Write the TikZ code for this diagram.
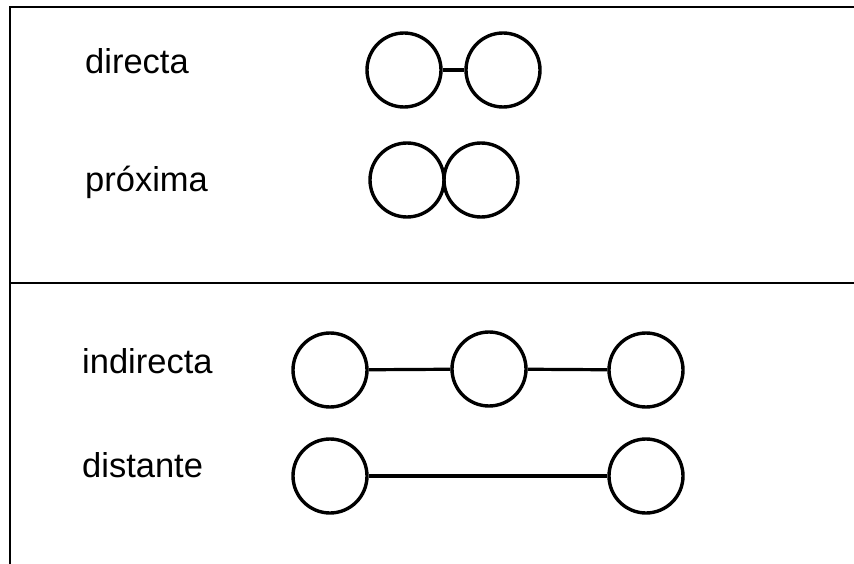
\documentclass[tikz,border=0pt]{standalone}
\usepackage{fontspec}
\setmainfont{Liberation Sans}
\begin{document}
\begin{tikzpicture}[x=1pt,y=-1pt,
  ball/.style={circle,draw,line width=3.4pt,minimum size=74pt,inner sep=0pt},
  bond/.style={line width=3.2pt},
  frame/.style={line width=2.8pt},
  lbl/.style={anchor=base west,inner sep=0pt,font=\fontsize{34.5}{40}\selectfont}]
\useasboundingbox (0,0) rectangle (854,564);
% frame
\coordinate (tl) at (10,7);
\coordinate (tr) at (854,7);
\coordinate (bl) at (10,564);
\coordinate (ml) at (10,283);
\coordinate (mr) at (854,283);
\draw[frame] (tr) -- (tl) -- (bl);
\draw[frame] (ml) -- (mr);
% labels
\node[lbl] (t1) at (85,74) {directa};
\node[lbl] (t2) at (85,192) {próxima};
\node[lbl] (t3) at (82,373) {indirecta};
\node[lbl] (t4) at (82,477) {distante};
% directa
\node[ball] (d1) at (404,70) {};
\node[ball] (d2) at (503,70) {};
\draw[bond] (d1) -- (d2);
% proxima
\node[ball] (p1) at (407,180) {};
\node[ball] (p2) at (481,180) {};
% indirecta
\node[ball] (i1) at (330,370) {};
\node[ball] (i2) at (489,369) {};
\node[ball] (i3) at (646,370) {};
\draw[bond] (i1) -- (i2);
\draw[bond] (i2) -- (i3);
% distante
\node[ball] (s1) at (330,476) {};
\node[ball] (s2) at (646,476) {};
\draw[bond] (s1) -- (s2);
\end{tikzpicture}
\end{document}
